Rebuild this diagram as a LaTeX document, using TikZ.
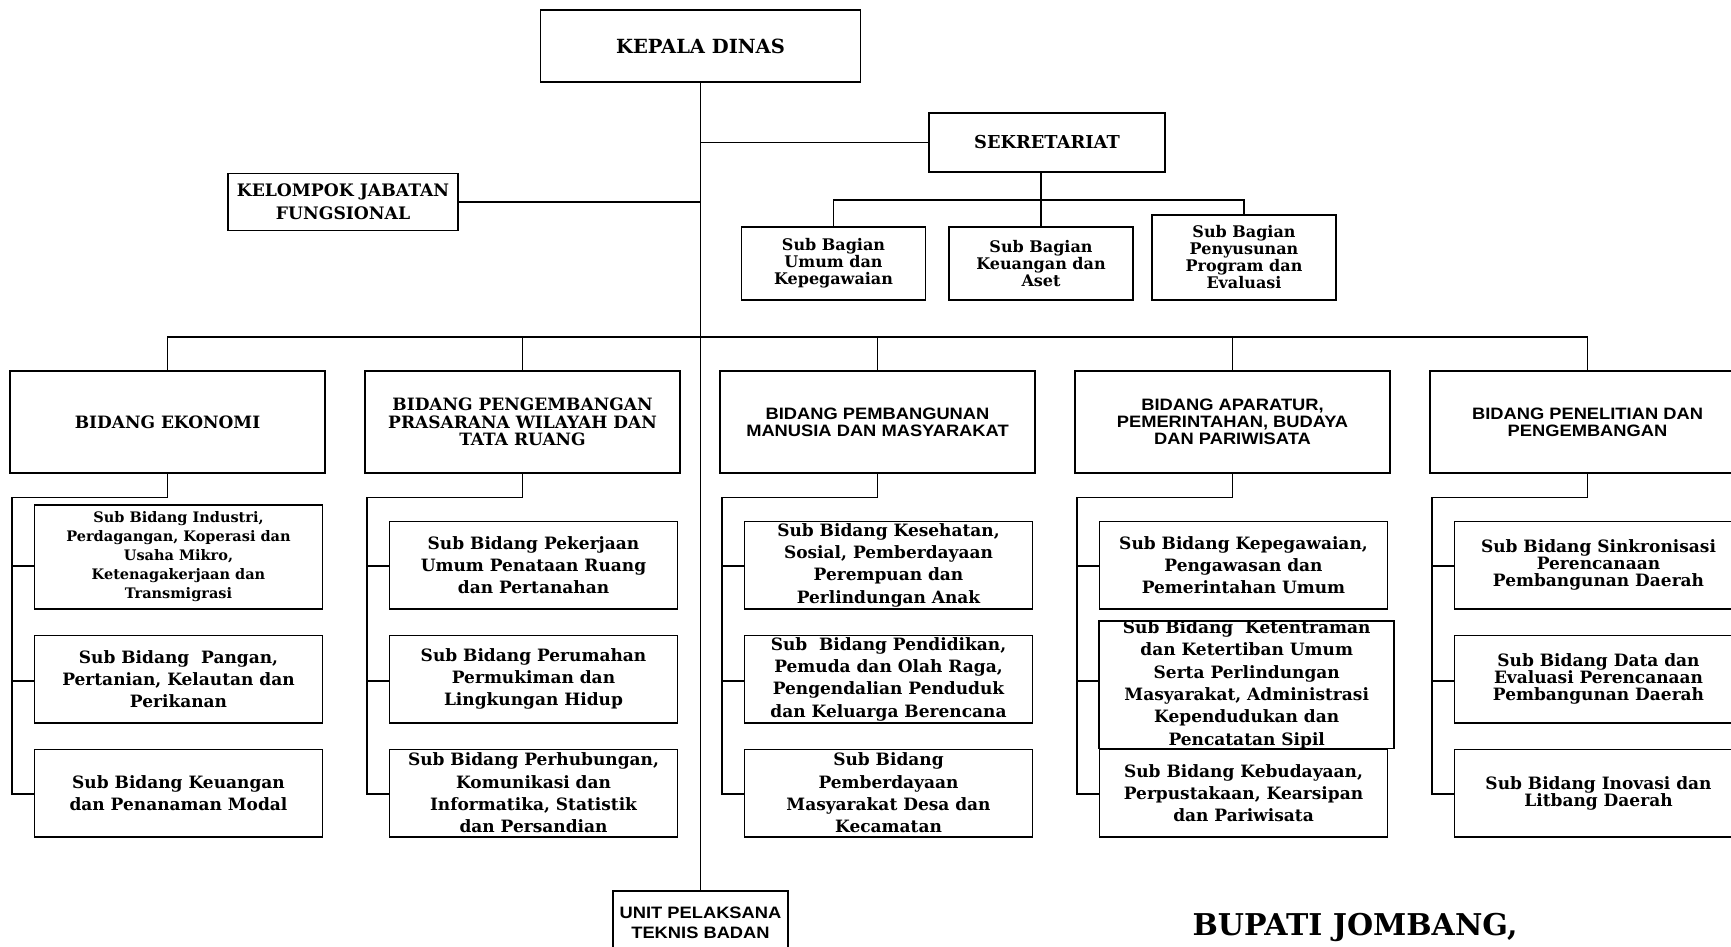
\documentclass[tikz,border=0pt]{standalone}
\usepackage{fontspec}
\newfontfamily\bkm{DejaVu Serif}
\newfontfamily\arl{Liberation Sans}[FakeStretch=1.11]
\newcommand\fsz[2]{\fontsize{#1}{#2}\selectfont}

\begin{document}
\begin{tikzpicture}[x=1pt,y=-1pt,
    org/.style={draw,line width=1.6pt,align=center,inner sep=0pt},
    hdr/.style={org,minimum width=315pt,minimum height=102pt},
    serifhdr/.style={hdr,font=\bkm\bfseries\fsz{17}{17.8}},
    sanshdr/.style={hdr,font=\arl\bfseries\fsz{16.5}{17}},
    sbag/.style={org,minimum width=184pt,font=\bkm\bfseries\fsz{16}{17}},
    subbox/.style={org,minimum width=288pt,minimum height=87.4pt,font=\bkm\bfseries\fsz{17}{22.3}},
    tightsub/.style={subbox,font=\bkm\bfseries\fsz{17}{17}},
    link/.style={line width=1.6pt}]
  \useasboundingbox (0,0) rectangle (1731,947);
  \clip (0,0) rectangle (1731,947);

  \node[org,minimum width=320pt,minimum height=72pt,font=\bkm\bfseries\fsz{19.5}{20}] (kd) at (700.5,46) {KEPALA DINAS};
  \node[org,minimum width=236pt,minimum height=59pt,font=\bkm\bfseries\fsz{17.8}{20}] (sek) at (1047,142.5) {SEKRETARIAT};
  \node[org,minimum width=230pt,minimum height=57pt,font=\bkm\bfseries\fsz{17.2}{22.7}] (kjf) at (343,202) {KELOMPOK JABATAN\\FUNGSIONAL};

  \node[sbag,minimum height=73pt] (sbu) at (833.5,263.5) {Sub Bagian\\Umum dan\\Kepegawaian};
  \node[sbag,minimum height=73pt] (sbk) at (1041,263.5) {Sub Bagian\\Keuangan dan\\Aset};
  \node[sbag,minimum height=85pt] (sbp) at (1244,257.5) {Sub Bagian\\Penyusunan\\Program dan\\Evaluasi};

  \node[serifhdr] (eko) at (167.5,422) {BIDANG EKONOMI};
  \node[serifhdr] (ppw) at (522.5,422) {BIDANG PENGEMBANGAN\\PRASARANA WILAYAH DAN\\TATA RUANG};
  \node[sanshdr] (pmm) at (877.5,422) {BIDANG PEMBANGUNAN\\MANUSIA DAN MASYARAKAT};
  \node[sanshdr] (apb) at (1232.5,422) {BIDANG APARATUR,\\PEMERINTAHAN, BUDAYA\\DAN PARIWISATA};
  \node[sanshdr] (lit) at (1587.5,422) {BIDANG PENELITIAN DAN\\PENGEMBANGAN};

  \node[subbox,minimum height=104pt,font=\bkm\bfseries\fsz{14.5}{19}] (eko1) at (178.5,556.7) {Sub Bidang Industri,\\Perdagangan, Koperasi dan\\Usaha Mikro,\\Ketenagakerjaan dan\\Transmigrasi};
  \node[subbox] (eko2) at (178.5,679) {Sub Bidang~ Pangan,\\Pertanian, Kelautan dan\\Perikanan};
  \node[subbox] (eko3) at (178.5,793) {Sub Bidang Keuangan\\dan Penanaman Modal};

  \node[subbox] (ppw1) at (533.5,565) {Sub Bidang Pekerjaan\\Umum Penataan Ruang\\dan Pertanahan};
  \node[subbox] (ppw2) at (533.5,679) {Sub Bidang Perumahan\\Permukiman dan\\Lingkungan Hidup};
  \node[subbox] (ppw3) at (533.5,793) {Sub Bidang Perhubungan,\\Komunikasi dan\\Informatika, Statistik\\dan Persandian};

  \node[subbox] (pmm1) at (888.5,565) {Sub Bidang Kesehatan,\\Sosial, Pemberdayaan\\Perempuan dan\\Perlindungan Anak};
  \node[subbox] (pmm2) at (888.5,679) {Sub~ Bidang Pendidikan,\\Pemuda dan Olah Raga,\\Pengendalian Penduduk\\dan Keluarga Berencana};
  \node[subbox] (pmm3) at (888.5,793) {Sub Bidang\\Pemberdayaan\\Masyarakat Desa dan\\Kecamatan};

  \node[subbox] (apb1) at (1243.5,565) {Sub Bidang Kepegawaian,\\Pengawasan dan\\Pemerintahan Umum};
  \node[subbox,minimum width=295pt,minimum height=122.7pt] (apb2) at (1246.7,684.7) {Sub Bidang~ Ketentraman\\dan Ketertiban Umum\\Serta Perlindungan\\Masyarakat, Administrasi\\Kependudukan dan\\Pencatatan Sipil};
  \node[subbox] (apb3) at (1243.5,793) {Sub Bidang Kebudayaan,\\Perpustakaan, Kearsipan\\dan Pariwisata};

  \node[tightsub] (lit1) at (1598.5,565) {Sub Bidang Sinkronisasi\\Perencanaan\\Pembangunan Daerah};
  \node[tightsub] (lit2) at (1598.5,679) {Sub Bidang Data dan\\Evaluasi Perencanaan\\Pembangunan Daerah};
  \node[tightsub] (lit3) at (1598.5,793) {Sub Bidang Inovasi dan\\Litbang Daerah};

  \node[org,minimum width=175pt,minimum height=64pt,font=\arl\bfseries\fsz{16.5}{20.6}] (upt) at (700.5,923) {UNIT PELAKSANA\\TEKNIS BADAN};
  \node[anchor=base,inner sep=0pt,font=\bkm\bfseries\fsz{30}{30}] (bup) at (1355,935) {BUPATI JOMBANG,};

  \draw[link] (kd.south) -- (upt.north);
  \draw[link] (sek.west) -- (sek.west -| kd.south);
  \draw[link] (kjf.east) -- (kjf.east -| kd.south);
  \draw[link] (sbk.north) -- (sbk.north |- sek.south);
  \draw[link] (sbu.north) -- ++(0,-26.3) -| (sbp.north);

  \coordinate (bus) at (700.5,337);
  \draw[link] (eko.north) |- (bus) -| (lit.north);
  \foreach \n in {ppw,pmm,apb}
    \draw[link] (\n.north) -- (\n.north |- bus);

  \coordinate (row1) at (0,566);
  \coordinate (row2) at (0,681);
  \coordinate (row3) at (0,794);
  \foreach \n in {eko,ppw,pmm,apb,lit} {
    \coordinate (sp\n) at ([xshift=2.5pt]\n.south west);
    \draw[link] (\n.south) -- ++(0,23.7) -| (sp\n |- row3) -- (\n3.west |- row3);
    \draw[link] (sp\n |- row1) -- (\n1.west |- row1);
    \draw[link] (sp\n |- row2) -- (\n2.west |- row2);
  }
\end{tikzpicture}
\end{document}
